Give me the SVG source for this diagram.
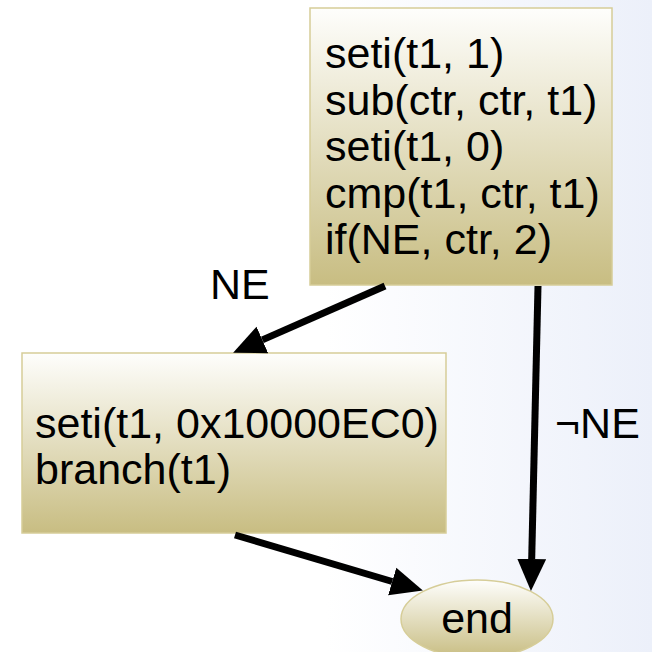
<svg xmlns="http://www.w3.org/2000/svg" width="652" height="652" viewBox="0 0 652 652">
<defs>
<linearGradient id="bg" x1="0" y1="0" x2="1" y2="0">
<stop offset="0" stop-color="#ffffff"/>
<stop offset="0.5" stop-color="#ffffff"/>
<stop offset="1" stop-color="#ecf0fa"/>
</linearGradient>
<linearGradient id="box" x1="0" y1="0" x2="0" y2="1">
<stop offset="0" stop-color="#fefefc"/>
<stop offset="1" stop-color="#c8bd82"/>
</linearGradient>
<marker id="ah" markerUnits="userSpaceOnUse" markerWidth="32" markerHeight="32" viewBox="0 -15 31 30" refX="0" refY="0" orient="auto">
<path d="M0,-14 L31,0 L0,14 z" fill="#000"/>
</marker>
<style>
.node{fill:url(#box);stroke:#d6cd98;stroke-width:1.5}
.t{font-family:"Liberation Sans",Arial,sans-serif;font-size:43px;fill:#000}
.c{stroke:#000;stroke-width:7;fill:none;marker-end:url(#ah)}
</style>
</defs>
<rect x="0" y="0" width="652" height="652" fill="url(#bg)"/>
<g id="block1">
<rect class="node" x="310" y="8" width="302" height="277"/>
<text class="t" x="325" y="68">seti(t1, 1)</text>
<text class="t" x="325" y="114.5">sub(ctr, ctr, t1)</text>
<text class="t" x="325" y="161">seti(t1, 0)</text>
<text class="t" x="325" y="207.5">cmp(t1, ctr, t1)</text>
<text class="t" x="325" y="254">if(NE, ctr, 2)</text>
</g>
<g id="block2">
<rect class="node" x="22" y="353" width="424" height="180"/>
<text class="t" x="35" y="438">seti(t1, 0x10000EC0)</text>
<text class="t" x="35" y="484">branch(t1)</text>
</g>
<g id="end">
<ellipse class="node" cx="477" cy="619" rx="76" ry="39"/>
<text class="t" x="477" y="633" text-anchor="middle">end</text>
</g>
<g id="connectors">
<line class="c" x1="385" y1="286" x2="262.4" y2="339.9"/>
<line class="c" x1="538" y1="286" x2="531.7" y2="559"/>
<line class="c" x1="235" y1="535" x2="392.2" y2="581.5"/>
<text class="t" x="210" y="299">NE</text>
<text class="t" x="555" y="438">¬NE</text>
</g>
</svg>
